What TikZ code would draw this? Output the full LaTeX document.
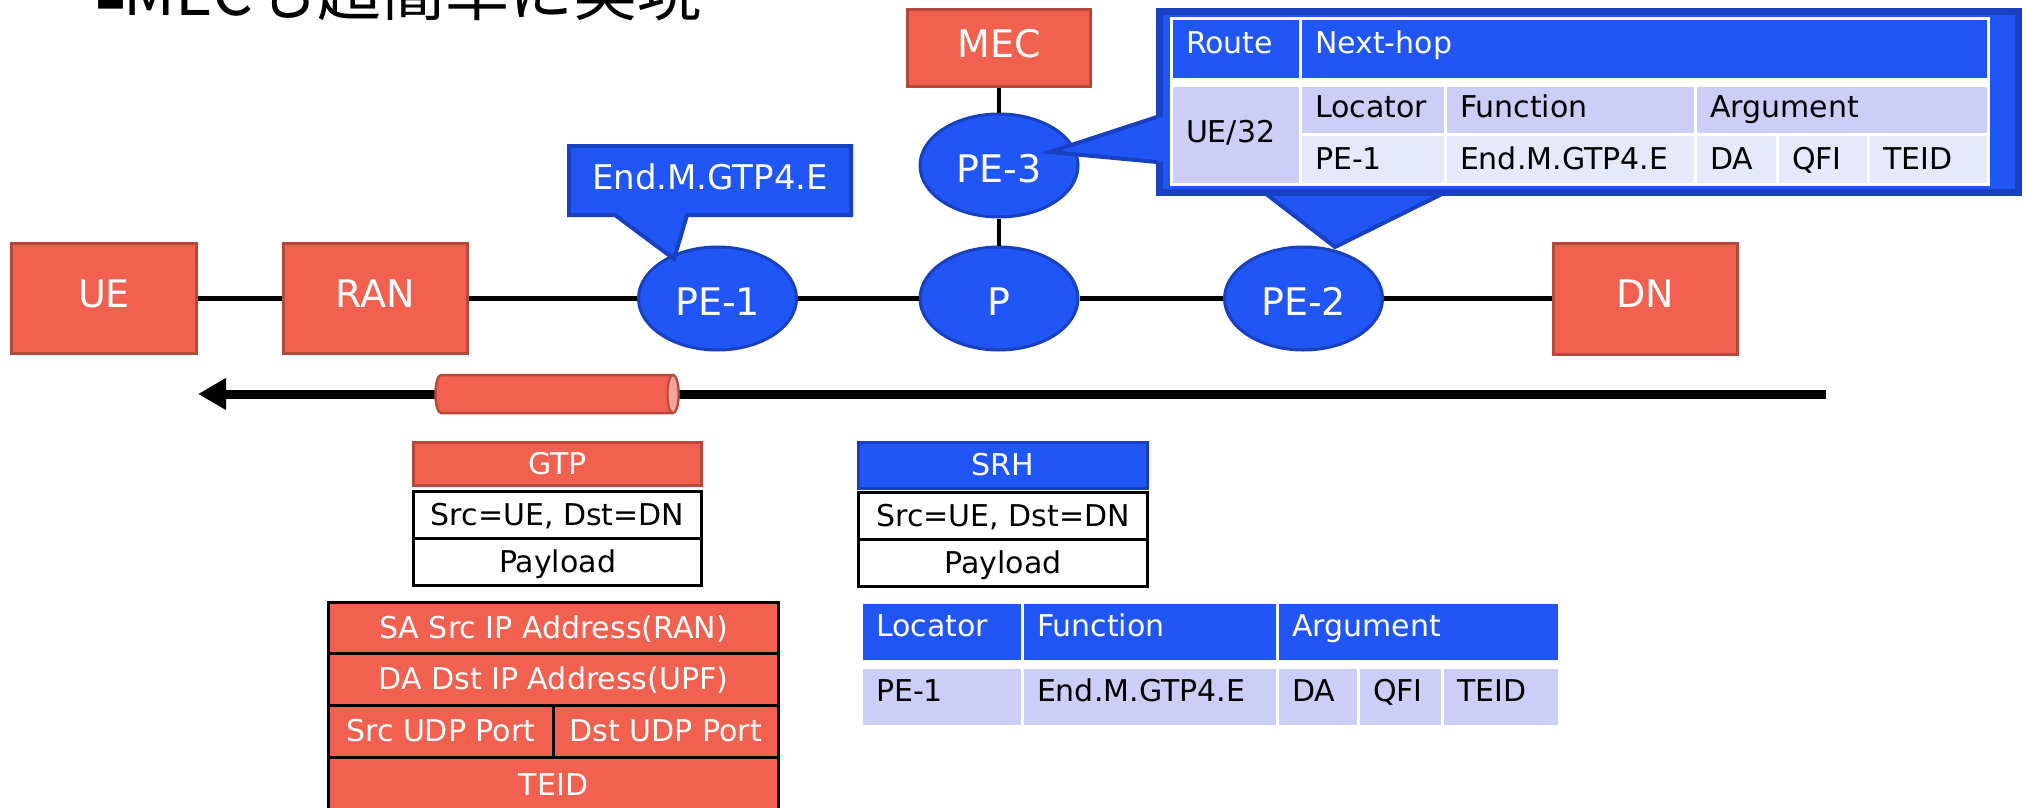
\documentclass[tikz,border=0pt]{standalone}
\usepackage{fontspec}
\setmainfont{DejaVu Sans}
\newfontfamily\cjk{Noto Sans CJK JP}
\usetikzlibrary{shapes.geometric,arrows.meta}
\definecolor{ored}{HTML}{F26150}
\definecolor{ored2}{HTML}{B8483C}
\definecolor{oblue}{HTML}{1F56F5}
\definecolor{oblue2}{HTML}{1840C0}
\definecolor{lav}{HTML}{CBCFF8}
\definecolor{lav2}{HTML}{E6E8FB}
\definecolor{pinkend}{HTML}{F4A39A}
\begin{document}
\begin{tikzpicture}[x=1pt,y=-1pt,
  redbox/.style={rectangle, fill=ored, draw=ored2, line width=3pt, text=white, inner sep=0pt,
    font=\fontsize{38}{40}\selectfont, text height=27.7pt, text depth=9pt},
  pe/.style={ellipse, fill=oblue, draw=oblue2, line width=3pt, text=white, inner sep=0pt,
    minimum width=158pt, minimum height=103pt, font=\fontsize{38}{40}\selectfont,
    text height=33.7pt, text depth=0pt},
  link/.style={line width=5pt},
  vlink/.style={line width=4pt},
  pkt/.style={rectangle, draw=black, fill=white, line width=3pt, inner sep=0pt,
    font=\fontsize{30}{32}\selectfont, text height=21.9pt, text depth=1pt},
  tcell/.style={rectangle, draw=white, line width=3pt, inner xsep=15pt, inner ysep=0pt,
    outer sep=0pt, anchor=north west, align=left, font=\fontsize{30}{32}\selectfont,
    text height=21.9pt, text depth=12pt},
  hcell/.style={tcell, fill=oblue, text=white},
  lcell/.style={tcell, fill=lav},
  l2cell/.style={tcell, fill=lav2},
  callout/.style={fill=oblue, draw=oblue2, line width=4pt}
]
\useasboundingbox (0,0) rectangle (2026,808);
\clip (0,0) rectangle (2026,808);

% title (cut off at top)
\node[anchor=base west, inner sep=0pt, font=\cjk\fontsize{64}{64}\selectfont] (title) at (95,16)
  {\raisebox{7pt}{\fontsize{31}{31}\selectfont ■}\kern-3pt MECも超簡単に実現};

% main nodes
\node[redbox, minimum width=185pt, minimum height=110pt] (UE) at (104,298.5) {UE};
\node[redbox, minimum width=184pt, minimum height=110pt] (RAN) at (375.5,298.5) {RAN};
\node[pe] (PE1) at (717.5,298.5) {PE-1};
\node[pe] (P) at (999,298.5) {P};
\node[pe] (PE2) at (1303.5,298.5) {PE-2};
\node[redbox, minimum width=184pt, minimum height=111pt] (DN) at (1645.5,298.5) {DN};
\node[redbox, minimum width=183pt, minimum height=77pt, text depth=8pt] (MEC) at (999,48) {MEC};
\node[pe] (PE3) at (999,165.5) {PE-3};

\draw[link] (UE) -- (RAN);
\draw[link] (RAN) -- (PE1);
\draw[link] (PE1) -- (P);
\draw[link] (P) -- (PE2);
\draw[link] (PE2) -- (DN);
\draw[vlink] (MEC) -- (PE3);
\draw[vlink] (PE3) -- (P);

% callout End.M.GTP4.E
\draw[callout, line width=4pt, line join=miter]
  (569,146) -- (851,146) -- (851,215) -- (687,215) -- (674,259) -- (615,215) -- (569,215) -- cycle;
\node[inner sep=0pt, text=white, font=\fontsize{34}{36}\selectfont, text height=24.8pt, text depth=0pt]
  (cal1) at (710,177) {End.M.GTP4.E};

% big callout with table
\fill[oblue] (1261,190) -- (1335,247) -- (1450,190) -- cycle;
\draw[oblue2, line width=4pt] (1261,190) -- (1335,247) -- (1450,190);
\draw[fill=oblue, draw=oblue2, line width=7pt] (1159.5,11.5) rectangle (2018.5,192.5);
\fill[oblue] (1050,152) -- (1157,117) -- (1166,117) -- (1166,162) -- (1157,162) -- cycle;
\draw[oblue2, line width=4pt] (1157,117) -- (1050,152) -- (1157,162);
\fill[white] (1169.5,17.5) rectangle (1989.5,185.5);
\node[hcell, text depth=12pt, text width=99pt, minimum height=60pt] (cRoute) at (1171,19) {Route};
\node[hcell, text depth=12pt, text width=658pt, minimum height=60pt] (cNext) at (1300,19) {Next-hop};
\node[lcell, text depth=5pt, text width=99pt, minimum height=99pt] (cUE) at (1171,85) {UE/32};
\node[lcell, text depth=6pt, text width=115pt, minimum height=49pt] (cLoc) at (1300,85) {Locator};
\node[lcell, text depth=6pt, text width=220pt, minimum height=49pt] (cFun) at (1445,85) {Function};
\node[lcell, text depth=6pt, text width=263pt, minimum height=49pt] (cArg) at (1695,85) {Argument};
\node[l2cell, text depth=0pt, text width=115pt, minimum height=50pt] (cPE) at (1300,134) {PE-1};
\node[l2cell, text depth=0pt, text width=220pt, minimum height=50pt] (cEnd) at (1445,134) {End.M.GTP4.E};
\node[l2cell, text depth=0pt, text width=52pt, minimum height=50pt] (cDA) at (1695,134) {DA};
\node[l2cell, text depth=0pt, text width=61pt, minimum height=50pt] (cQFI) at (1777,134) {QFI};
\node[l2cell, text depth=0pt, text width=90pt, minimum height=50pt] (cTEID) at (1868,134) {TEID};

% flow arrow and tunnel
\coordinate (aS) at (1826,394);
\coordinate (aE) at (198,394);
\draw[line width=9pt, -{Triangle[length=28pt,width=30pt]}] (aS) -- (aE);
\draw[fill=ored, draw=ored2, line width=2.5pt]
  (441,375) -- (673,375) arc[start angle=90, end angle=-90, x radius=5.5pt, y radius=19pt]
  -- (441,413) arc[start angle=270, end angle=90, x radius=5.5pt, y radius=19pt] -- cycle;
\draw[fill=pinkend, draw=ored2, line width=2pt] (673,394) ellipse[x radius=5.5pt, y radius=19pt];

% GTP packet
\node[pkt, fill=ored, draw=ored2, text=white, minimum width=288pt, minimum height=43pt] (GTP) at (557.5,464) {GTP};
\node[pkt, minimum width=288pt, minimum height=47pt] (gsrc) at (557.5,515) {Src=UE, Dst=DN};
\node[pkt, minimum width=288pt, minimum height=47pt] (gpay) at (557.5,562) {Payload};

% SRH packet
\node[pkt, fill=oblue, draw=oblue2, text=white, minimum width=289pt, minimum height=46pt] (SRH) at (1003,465.5) {SRH};
\node[pkt, minimum width=289pt, minimum height=47pt] (ssrc) at (1003,516) {Src=UE, Dst=DN};
\node[pkt, minimum width=289pt, minimum height=47pt] (spay) at (1003,563) {Payload};

% GTP header fields
\node[pkt, fill=ored, text=white, minimum width=450pt, minimum height=50.5pt, text depth=0pt] (r1) at (553.5,627.75) {SA Src IP Address(RAN)};
\node[pkt, fill=ored, text=white, minimum width=450pt, minimum height=52pt, text depth=0pt] (r2) at (553.5,679) {DA Dst IP Address(UPF)};
\node[pkt, fill=ored, text=white, minimum width=224.5pt, minimum height=52pt, text depth=0pt] (r3a) at (440.75,731) {Src UDP Port};
\node[pkt, fill=ored, text=white, minimum width=225.5pt, minimum height=52pt, text depth=0pt] (r3b) at (665.75,731) {Dst UDP Port};
\node[pkt, fill=ored, text=white, minimum width=450pt, minimum height=55pt, text depth=0pt] (r4) at (553.5,784.5) {TEID};

% SID table
\node[hcell, text width=131pt, minimum height=59pt] (tLoc) at (861,602) {Locator};
\node[hcell, text width=225pt, minimum height=59pt] (tFun) at (1022,602) {Function};
\node[hcell, text width=252pt, minimum height=59pt] (tArg) at (1277,602) {Argument};
\node[lcell, text width=131pt, minimum height=59pt] (tPE) at (861,667) {PE-1};
\node[lcell, text width=225pt, minimum height=59pt] (tEnd) at (1022,667) {End.M.GTP4.E};
\node[lcell, text width=51pt, minimum height=59pt] (tDA) at (1277,667) {DA};
\node[lcell, text width=54pt, minimum height=59pt] (tQFI) at (1358,667) {QFI};
\node[lcell, text width=87pt, minimum height=59pt] (tTEID) at (1442,667) {TEID};
\end{tikzpicture}
\end{document}
